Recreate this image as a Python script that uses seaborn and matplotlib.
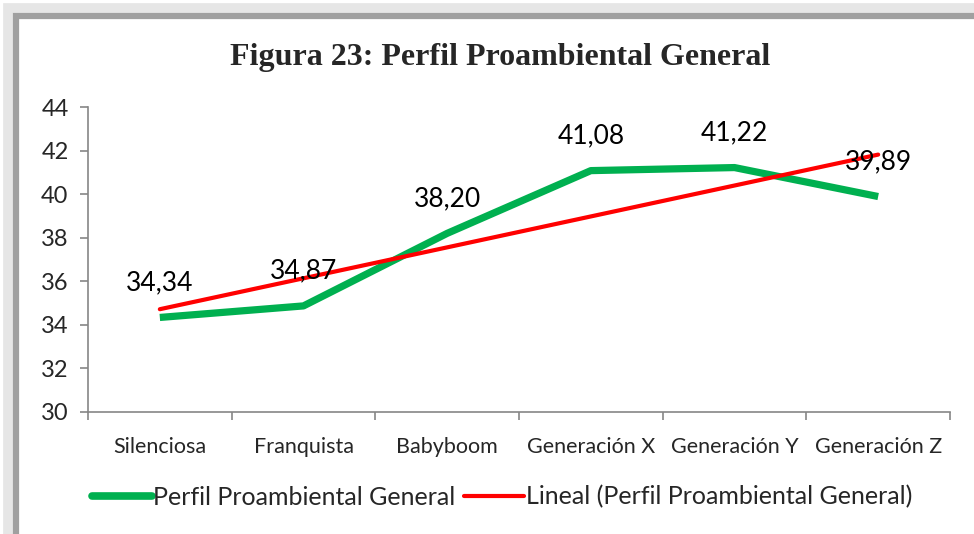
import matplotlib
matplotlib.use("Agg")
import matplotlib.pyplot as plt
from matplotlib.patches import Rectangle
from matplotlib.lines import Line2D
import seaborn as sns
import pandas as pd

# data
generaciones = ["Silenciosa", "Franquista", "Babyboom", "Generación X", "Generación Y", "Generación Z"]
perfil = [34.34, 34.87, 38.20, 41.08, 41.22, 39.89]
etiquetas = ["34,34", "34,87", "38,20", "41,08", "41,22", "39,89"]
y_ticks = [30, 32, 34, 36, 38, 40, 42, 44]

df = pd.DataFrame({"pos": range(1, len(generaciones) + 1), "valor": perfil})

sns.set_style("white")
plt.rcParams["font.family"] = ["Lato", "DejaVu Sans"]

fig = plt.figure(figsize=(9.74, 5.34), dpi=100)
ax = fig.add_axes([88 / 974, 1 - 412 / 534, (950 - 88) / 974, (412 - 107) / 534])

green = "#00b050"
red = "#ff0000"
axis_col = "#868686"

sns.lineplot(data=df, x="pos", y="valor", ax=ax, color=green, linewidth=5.2,
             solid_capstyle="butt", zorder=2)
# linear trend (Excel "Lineal")
sns.regplot(data=df, x="pos", y="valor", ax=ax, scatter=False, ci=None,
            color=red, line_kws={"linewidth": 3, "zorder": 3}, truncate=True)

for p, v, t in zip(df["pos"], perfil, etiquetas):
    ax.annotate(t, (p, v), xytext=(0, 25), textcoords="offset points",
                ha="center", va="center", fontsize=19, color="#000000", zorder=4)

ax.set_xlim(0.5, len(generaciones) + 0.5)
ax.set_ylim(30, 44)
ax.set_yticks(y_ticks)
ax.set_yticklabels([str(t) for t in y_ticks], fontsize=17)
ax.set_xticks(list(df["pos"]))
ax.set_xticklabels(generaciones, fontsize=15.5)
ax.set_xticks([i + 0.5 for i in range(len(generaciones) + 1)], minor=True)
ax.tick_params(axis="x", which="major", length=0, pad=18)
ax.tick_params(axis="x", which="minor", length=6, width=1.2, color=axis_col, direction="out")
ax.tick_params(axis="y", length=6, width=1.2, color=axis_col, direction="out", pad=8)
ax.xaxis.set_ticks_position("bottom")
ax.yaxis.set_ticks_position("left")
ax.set_xlabel("")
ax.set_ylabel("")
for s in ["top", "right"]:
    ax.spines[s].set_visible(False)
for s in ["left", "bottom"]:
    ax.spines[s].set_color(axis_col)
    ax.spines[s].set_linewidth(1.2)

fig.text(500 / 974, 1 - 57 / 534, "Figura 23: Perfil Proambiental General",
         ha="center", va="center", fontsize=23, fontweight="bold",
         family=["Liberation Serif", "DejaVu Serif"])

handles = [Line2D([], [], color=green, linewidth=5.5),
           Line2D([], [], color=red, linewidth=3)]
fig.legend(handles, ["Perfil Proambiental General", "Lineal (Perfil Proambiental General)"],
           loc="center", bbox_to_anchor=(502 / 974, 1 - 497 / 534), ncol=2, frameon=False,
           fontsize=18, handlelength=2.4, handletextpad=0.05, columnspacing=0.35)

# chart frame with shadow
fig.patches.append(Rectangle((8 / 974, -0.05), 1.2, 1 - 8 / 534 + 0.05, transform=fig.transFigure,
                             fill=False, edgecolor="#e6e6e6", linewidth=7, zorder=0))
fig.patches.append(Rectangle((16 / 974, -0.05), 1.2, 1 - 16 / 534 + 0.05, transform=fig.transFigure,
                             fill=False, edgecolor="#a0a0a0", linewidth=4.5, zorder=1))

fig.savefig("out.png", dpi=100)
